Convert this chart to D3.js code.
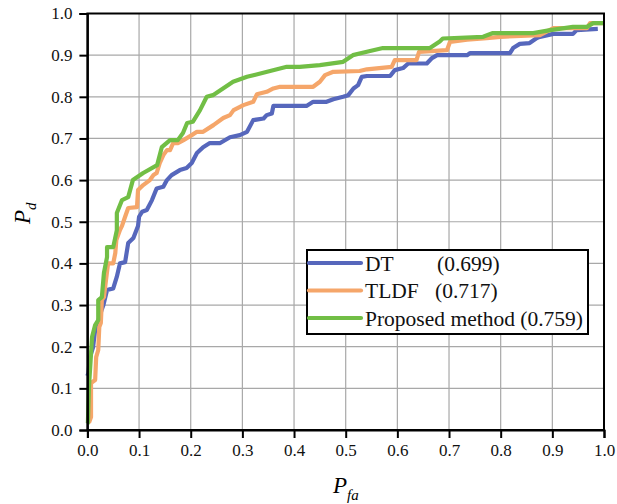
<!DOCTYPE html>
<html>
<head>
<meta charset="utf-8">
<script src="https://cdn.jsdelivr.net/npm/d3@7"></script>
<style>
  body { margin: 0; background: #fff; }
  svg { display: block; font-family: "Liberation Serif", "Times New Roman", serif; }
</style>
</head>
<body>
<div id="chart"></div>
<script>
const margin = { top: 13.5, right: 13, bottom: 74, left: 87.4 };
const width = 617 - margin.left - margin.right;
const height = 504 - margin.top - margin.bottom;

// ROC curves, [Pfa, Pd]
const dtPoints = [
  [0.0, 0.13], [0.002, 0.137], [0.005, 0.175], [0.011, 0.199], [0.015, 0.24], [0.021, 0.262],
  [0.028, 0.29], [0.031, 0.30], [0.038, 0.336], [0.05, 0.34], [0.057, 0.368], [0.063, 0.40],
  [0.073, 0.403], [0.079, 0.449], [0.089, 0.461], [0.098, 0.49], [0.1, 0.512], [0.106, 0.524],
  [0.115, 0.528], [0.125, 0.552], [0.134, 0.58], [0.147, 0.584], [0.154, 0.60], [0.163, 0.612],
  [0.179, 0.624], [0.192, 0.629], [0.202, 0.641], [0.212, 0.665], [0.224, 0.679], [0.237, 0.689],
  [0.257, 0.689], [0.276, 0.703], [0.295, 0.708], [0.309, 0.716], [0.321, 0.744], [0.341, 0.748],
  [0.347, 0.756], [0.357, 0.76], [0.36, 0.778], [0.424, 0.778], [0.437, 0.788], [0.463, 0.788],
  [0.476, 0.794], [0.495, 0.80], [0.505, 0.804], [0.515, 0.82], [0.524, 0.828], [0.531, 0.848],
  [0.541, 0.85], [0.586, 0.85], [0.595, 0.864], [0.611, 0.869], [0.621, 0.88], [0.657, 0.88],
  [0.667, 0.893], [0.677, 0.90], [0.735, 0.90], [0.741, 0.905], [0.818, 0.905], [0.824, 0.917],
  [0.837, 0.927], [0.856, 0.929], [0.87, 0.941], [0.876, 0.944], [0.902, 0.951], [0.94, 0.951],
  [0.947, 0.96], [0.988, 0.963]
];

const tldfPoints = [
  [0.003, 0.017], [0.007, 0.031], [0.007, 0.113], [0.015, 0.12], [0.017, 0.175], [0.021, 0.192],
  [0.023, 0.247], [0.026, 0.257], [0.028, 0.312], [0.032, 0.319], [0.036, 0.36], [0.04, 0.40],
  [0.05, 0.40], [0.054, 0.425], [0.056, 0.456], [0.063, 0.48], [0.067, 0.49], [0.073, 0.512],
  [0.079, 0.533], [0.096, 0.535], [0.098, 0.576], [0.108, 0.588], [0.121, 0.60], [0.128, 0.612],
  [0.134, 0.617], [0.14, 0.641], [0.147, 0.66], [0.154, 0.672], [0.16, 0.672], [0.166, 0.689],
  [0.176, 0.689], [0.186, 0.696], [0.202, 0.708], [0.212, 0.716], [0.224, 0.716], [0.244, 0.732],
  [0.263, 0.749], [0.276, 0.756], [0.283, 0.768], [0.302, 0.78], [0.321, 0.788], [0.328, 0.806],
  [0.347, 0.812], [0.36, 0.82], [0.373, 0.824], [0.437, 0.824], [0.45, 0.836], [0.46, 0.852],
  [0.476, 0.86], [0.527, 0.862], [0.541, 0.866], [0.589, 0.872], [0.595, 0.888], [0.637, 0.888],
  [0.642, 0.908], [0.696, 0.912], [0.702, 0.932], [0.735, 0.937], [0.773, 0.941], [0.799, 0.944],
  [0.876, 0.948], [0.902, 0.965], [0.967, 0.965], [0.973, 0.977], [1.0, 0.977]
];

const proposedPoints = [
  [0.0, 0.015], [0.001, 0.017], [0.003, 0.103], [0.009, 0.223], [0.015, 0.252], [0.021, 0.264],
  [0.021, 0.312], [0.028, 0.319], [0.032, 0.377], [0.038, 0.415], [0.038, 0.439], [0.05, 0.439],
  [0.057, 0.48], [0.057, 0.521], [0.067, 0.552], [0.079, 0.559], [0.088, 0.60], [0.108, 0.617],
  [0.135, 0.636], [0.144, 0.679], [0.16, 0.696], [0.175, 0.696], [0.185, 0.713], [0.193, 0.737],
  [0.204, 0.74], [0.218, 0.768], [0.231, 0.80], [0.243, 0.804], [0.282, 0.836], [0.309, 0.848],
  [0.348, 0.86], [0.386, 0.872], [0.411, 0.872], [0.45, 0.876], [0.495, 0.884], [0.514, 0.90],
  [0.541, 0.908], [0.572, 0.917], [0.663, 0.917], [0.682, 0.933], [0.688, 0.940], [0.766, 0.944],
  [0.785, 0.953], [0.863, 0.953], [0.896, 0.96], [0.94, 0.968], [0.967, 0.968], [0.979, 0.977],
  [1.0, 0.977]
];

const seriesNames = ["DT", "TLDF", "Proposed method"];
const seriesAuc = ["(0.699)", "(0.717)", "(0.759)"];
const seriesColors = ["#5667BC", "#F5A66A", "#71BE45"];
const seriesData = [dtPoints, tldfPoints, proposedPoints];

const tickValues = d3.range(0, 11).map(i => i / 10);

const svg = d3.select("#chart")
  .append("svg")
  .attr("width", 617)
  .attr("height", 504)
  .append("g")
  .attr("transform", `translate(${margin.left},${margin.top})`);

const x = d3.scaleLinear().domain([0, 1]).range([0, width]);
const y = d3.scaleLinear().domain([0, 1]).range([height, 0]);

// grid
svg.append("g")
  .selectAll("line.gx")
  .data(tickValues)
  .enter()
  .append("line")
  .attr("x1", d => x(d)).attr("x2", d => x(d))
  .attr("y1", 0).attr("y2", height)
  .attr("stroke", "#a8a8a8")
  .attr("stroke-width", 1.2);

svg.append("g")
  .selectAll("line.gy")
  .data(tickValues)
  .enter()
  .append("line")
  .attr("x1", 0).attr("x2", width)
  .attr("y1", d => y(d)).attr("y2", d => y(d))
  .attr("stroke", "#a8a8a8")
  .attr("stroke-width", 1.2);

// curves
const line = d3.line()
  .x(d => x(d[0]))
  .y(d => y(d[1]));

seriesData.forEach((pts, i) => {
  svg.append("path")
    .datum(pts)
    .attr("d", line)
    .attr("fill", "none")
    .attr("stroke", seriesColors[i])
    .attr("stroke-width", 4.2)
    .attr("stroke-linejoin", "round");
});

// frame
svg.append("rect")
  .attr("width", width)
  .attr("height", height)
  .attr("fill", "none")
  .attr("stroke", "#000")
  .attr("stroke-width", 2);

// axes
const xAxis = svg.append("g")
  .attr("transform", `translate(0,${height})`)
  .call(d3.axisBottom(x).tickValues(tickValues).tickFormat(d3.format(".1f")).tickSize(8).tickPadding(6));

const yAxis = svg.append("g")
  .call(d3.axisLeft(y).tickValues(tickValues).tickFormat(d3.format(".1f")).tickSize(8).tickPadding(7));

[xAxis, yAxis].forEach(a => {
  a.select(".domain").attr("stroke-width", 2);
  a.selectAll(".tick line").attr("stroke-width", 2);
  a.selectAll("text")
    .style("font-family", "'Liberation Serif', serif")
    .style("font-size", "17px")
    .attr("fill", "#111");
});

// axis titles
const xTitle = svg.append("text")
  .attr("x", 333 - margin.left)
  .attr("y", 493 - margin.top)
  .style("font-size", "23px")
  .style("font-style", "italic");
xTitle.append("tspan").text("P");
xTitle.append("tspan").attr("dy", 7).style("font-size", "15px").text("fa");

const yTitle = svg.append("text")
  .attr("transform", `translate(${30 - margin.left},${224 - margin.top}) rotate(-90)`)
  .style("font-size", "23px")
  .style("font-style", "italic");
yTitle.append("tspan").text("P");
yTitle.append("tspan").attr("dy", 6).style("font-size", "15px").text("d");

// legend
const legend = svg.append("g")
  .attr("transform", `translate(${307 - margin.left},${250 - margin.top})`);

legend.append("rect")
  .attr("width", 281)
  .attr("height", 84)
  .attr("fill", "#fff")
  .attr("stroke", "#000")
  .attr("stroke-width", 2);

const aucX = [130, 128, null];

seriesNames.forEach((name, i) => {
  const ly = 13 + i * 27.5;
  legend.append("line")
    .attr("x1", 2).attr("x2", 54)
    .attr("y1", ly).attr("y2", ly)
    .attr("stroke", seriesColors[i])
    .attr("stroke-width", 4.2)
    .attr("stroke-linecap", "round");
  const t = legend.append("text")
    .attr("x", 58)
    .attr("y", ly + 7.5)
    .style("font-size", "21.5px")
    .attr("fill", "#111");
  if (aucX[i] === null) {
    t.text(`${name} ${seriesAuc[i]}`);
  } else {
    t.append("tspan").text(name);
    t.append("tspan").attr("x", aucX[i]).text(seriesAuc[i]);
  }
});
</script>
</body>
</html>
